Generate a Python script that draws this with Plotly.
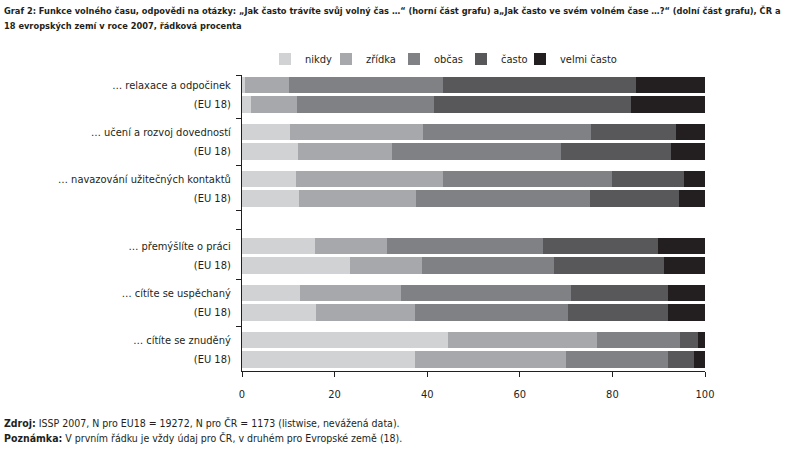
import plotly.graph_objects as go

# ---------------- data ----------------
categories = [
    "… relaxace a odpočinek", "(EU 18)",
    "… učení a rozvoj dovedností", "(EU 18)",
    "… navazování užitečných kontaktů", "(EU 18)",
    "… přemýšlíte o práci", "(EU 18)",
    "… cítíte se uspěchaný", "(EU 18)",
    "… cítíte se znuděný", "(EU 18)",
]
series_names = ["nikdy", "zřídka", "občas", "často", "velmi často"]
nikdy       = [0.7, 2.0, 10.4, 12.2, 11.7, 12.4, 15.8, 23.4, 12.6, 16.0, 44.5, 37.4]
zridka      = [9.5, 9.9, 28.7, 20.2, 31.7, 25.2, 15.6, 15.5, 21.8, 21.4, 32.2, 32.6]
obcas       = [33.3, 29.6, 36.3, 36.5, 36.5, 37.6, 33.6, 28.5, 36.7, 33.0, 17.9, 22.0]
casto       = [41.7, 42.5, 18.3, 23.7, 15.6, 19.2, 24.9, 23.8, 20.9, 21.6, 3.9, 5.6]
velmi_casto = [14.8, 16.0, 6.3, 7.4, 4.5, 5.6, 10.1, 8.8, 8.0, 8.0, 1.5, 2.4]
x_ticks = [0, 20, 40, 60, 80, 100]

colors = ["#D1D2D4", "#A7A8AB", "#808184", "#58585A", "#231F20"]

title_line1 = ("Graf 2: Funkce volného času, odpovědi na otázky: „Jak často trávíte svůj volný čas …“ "
               "(horní část grafu) a„Jak často ve svém volném čase …?“ (dolní část grafu), ČR a")
title_line2 = "18 evropských zemí v roce 2007, řádková procenta"
foot_line1 = "<b>Zdroj:</b> ISSP 2007, N pro EU18 = 19272, N pro ČR = 1173 (listwise, nevážená data)."
foot_line2 = "<b>Poznámka:</b> V prvním řádku je vždy údaj pro ČR, v druhém pro Evropské země (18)."

# ---------------- layout helpers ----------------
W, H = 795, 451
L, R, T, B = 242, 90, 75, 80
plot_w = W - L - R
plot_h = H - T - B

def px_x(px):
    return (px - L) / plot_w

def px_y(py):
    return 1 - (py - T) / plot_h

# group centres (row units); extra gap between upper and lower half
group_centres = [0, 2, 4, 6.85, 8.85, 10.85]
off = 0.415
positions = []
for c in group_centres:
    positions += [c - off, c + off]
boundaries = [
    (group_centres[0] + group_centres[1]) / 2,
    (group_centres[1] + group_centres[2]) / 2,
    group_centres[2] + 0.93,
    group_centres[3] - 1.1,
    (group_centres[3] + group_centres[4]) / 2,
    (group_centres[4] + group_centres[5]) / 2,
    group_centres[0] - 0.84,
]
y_range = [group_centres[-1] + 0.91, group_centres[0] - 0.84]

FONT = "DejaVu Sans Condensed, sans-serif"
INK = "#231F20"

# legend swatch left edges in the reference (px)
legend_px = [283, 344, 412, 479, 538]
legend_ids = ["legend", "legend2", "legend3", "legend4", "legend5"]

fig = go.Figure()
for name, vals, col, lid in zip(series_names,
                                [nikdy, zridka, obcas, casto, velmi_casto],
                                colors, legend_ids):
    fig.add_trace(go.Bar(
        x=vals, y=positions, orientation="h", name=name, legend=lid,
        marker=dict(color=col, line=dict(width=0)), width=0.7,
    ))

legend_layout = {}
for lid, lpx in zip(legend_ids, legend_px):
    legend_layout[lid] = dict(
        orientation="h", x=px_x(lpx - 18), y=px_y(59), xanchor="left",
        yanchor="middle", font=dict(size=11, family=FONT, color=INK),
        itemwidth=30, bgcolor="rgba(0,0,0,0)",
    )

fig.update_layout(
    width=W, height=H,
    margin=dict(l=L, r=R, t=T, b=B, pad=0),
    barmode="stack",
    plot_bgcolor="white", paper_bgcolor="white",
    font=dict(family=FONT, size=11, color=INK),
    xaxis=dict(
        range=[0, 100], tickvals=x_ticks, ticks="outside", ticklen=5,
        tickcolor=INK, showline=True, linecolor=INK, linewidth=1,
        showgrid=False, zeroline=False, tickfont=dict(size=11),
        ticklabelstandoff=8,
    ),
    yaxis=dict(
        range=y_range, tickvals=positions, ticktext=categories, ticks="",
        showline=True, linecolor=INK, linewidth=1, showgrid=False,
        zeroline=False, ticklabelstandoff=8, tickfont=dict(size=11),
        minor=dict(tickvals=boundaries, ticks="outside", ticklen=5,
                   tickcolor=INK, showgrid=False),
    ),
    showlegend=True,
    **legend_layout,
)

for txt, ypx in [(title_line1, 10), (title_line2, 25)]:
    fig.add_annotation(text="<b>" + txt + "</b>",
                       xref="paper", yref="paper", x=px_x(2), y=px_y(ypx),
                       xanchor="left", yanchor="middle", align="left", showarrow=False,
                       font=dict(size=9.2, family=FONT, color=INK))
for txt, ypx in [(foot_line1, 423), (foot_line2, 438)]:
    fig.add_annotation(text=txt, xref="paper", yref="paper", x=px_x(2), y=px_y(ypx),
                       xanchor="left", yanchor="middle", align="left", showarrow=False,
                       font=dict(size=10.5, family=FONT, color=INK))

fig.write_html("out.html")
